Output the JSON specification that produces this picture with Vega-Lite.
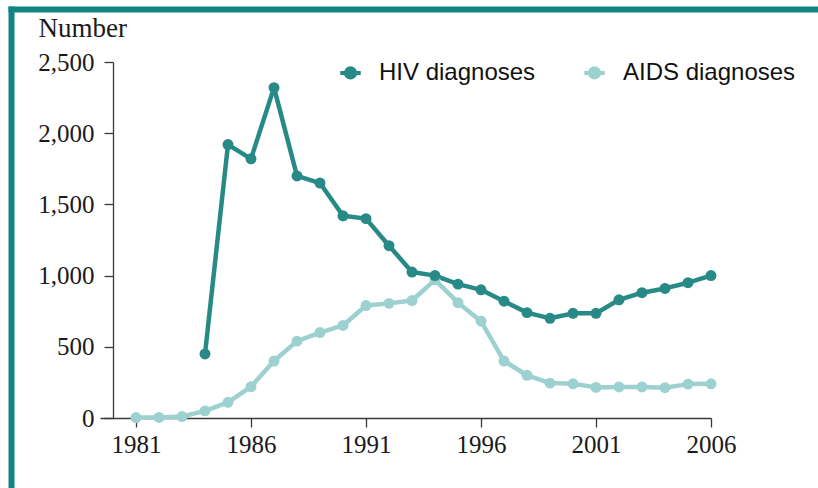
{
  "$schema": "https://vega.github.io/schema/vega-lite/v6.json",
  "width": 611,
  "height": 356,
  "autosize": {"type": "none"},
  "padding": {"left": 100, "top": 62, "right": 107, "bottom": 70},
  "background": "white",
  "config": {
    "view": {"stroke": null},
    "axis": {"grid": false, "domainColor": "#3a3a3a", "tickColor": "#3a3a3a", "domainWidth": 1.3, "tickWidth": 1.3, "labelFont": "Liberation Serif", "labelFontSize": 25, "labelColor": "#1a1a1a", "titleFont": "Liberation Serif", "titleFontWeight": "normal", "titleColor": "#1a1a1a"}
  },
  "datasets": {
    "d": [
      {"year": 1981, "series": "AIDS diagnoses", "value": 3},
      {"year": 1982, "series": "AIDS diagnoses", "value": 4},
      {"year": 1983, "series": "AIDS diagnoses", "value": 10},
      {"year": 1984, "series": "AIDS diagnoses", "value": 50},
      {"year": 1985, "series": "AIDS diagnoses", "value": 110},
      {"year": 1986, "series": "AIDS diagnoses", "value": 220},
      {"year": 1987, "series": "AIDS diagnoses", "value": 400},
      {"year": 1988, "series": "AIDS diagnoses", "value": 540},
      {"year": 1989, "series": "AIDS diagnoses", "value": 600},
      {"year": 1990, "series": "AIDS diagnoses", "value": 650},
      {"year": 1991, "series": "AIDS diagnoses", "value": 790},
      {"year": 1992, "series": "AIDS diagnoses", "value": 805},
      {"year": 1993, "series": "AIDS diagnoses", "value": 825},
      {"year": 1994, "series": "AIDS diagnoses", "value": 970},
      {"year": 1995, "series": "AIDS diagnoses", "value": 810},
      {"year": 1996, "series": "AIDS diagnoses", "value": 680},
      {"year": 1997, "series": "AIDS diagnoses", "value": 400},
      {"year": 1998, "series": "AIDS diagnoses", "value": 300},
      {"year": 1999, "series": "AIDS diagnoses", "value": 245},
      {"year": 2000, "series": "AIDS diagnoses", "value": 240},
      {"year": 2001, "series": "AIDS diagnoses", "value": 215},
      {"year": 2002, "series": "AIDS diagnoses", "value": 218},
      {"year": 2003, "series": "AIDS diagnoses", "value": 218},
      {"year": 2004, "series": "AIDS diagnoses", "value": 213},
      {"year": 2005, "series": "AIDS diagnoses", "value": 238},
      {"year": 2006, "series": "AIDS diagnoses", "value": 240},
      {"year": 1984, "series": "HIV diagnoses", "value": 450},
      {"year": 1985, "series": "HIV diagnoses", "value": 1920},
      {"year": 1986, "series": "HIV diagnoses", "value": 1820},
      {"year": 1987, "series": "HIV diagnoses", "value": 2320},
      {"year": 1988, "series": "HIV diagnoses", "value": 1700},
      {"year": 1989, "series": "HIV diagnoses", "value": 1650},
      {"year": 1990, "series": "HIV diagnoses", "value": 1420},
      {"year": 1991, "series": "HIV diagnoses", "value": 1400},
      {"year": 1992, "series": "HIV diagnoses", "value": 1210},
      {"year": 1993, "series": "HIV diagnoses", "value": 1025},
      {"year": 1994, "series": "HIV diagnoses", "value": 1000},
      {"year": 1995, "series": "HIV diagnoses", "value": 940},
      {"year": 1996, "series": "HIV diagnoses", "value": 900},
      {"year": 1997, "series": "HIV diagnoses", "value": 820},
      {"year": 1998, "series": "HIV diagnoses", "value": 740},
      {"year": 1999, "series": "HIV diagnoses", "value": 700},
      {"year": 2000, "series": "HIV diagnoses", "value": 735},
      {"year": 2001, "series": "HIV diagnoses", "value": 735},
      {"year": 2002, "series": "HIV diagnoses", "value": 830},
      {"year": 2003, "series": "HIV diagnoses", "value": 880},
      {"year": 2004, "series": "HIV diagnoses", "value": 910},
      {"year": 2005, "series": "HIV diagnoses", "value": 950},
      {"year": 2006, "series": "HIV diagnoses", "value": 1000}
    ]
  },
  "data": {"name": "d"},
  "layer": [
    {
      "mark": {"type": "line", "strokeWidth": 4.5, "strokeJoin": "round", "strokeCap": "round", "point": {"filled": true, "size": 120, "opacity": 1}},
      "encoding": {
        "x": {"field": "year", "type": "quantitative", "scale": {"domain": [1979.435, 2006], "nice": false, "zero": false},
          "axis": {"values": [1981, 1986, 1991, 1996, 2001, 2006], "format": "d", "title": null, "tickSize": 9, "labelPadding": 5, "labelFlush": false}},
        "y": {"field": "value", "type": "quantitative", "scale": {"domain": [0, 2500], "nice": false},
          "axis": {"values": [0, 500, 1000, 1500, 2000, 2500], "format": ",d", "tickSize": 9, "labelPadding": 10, "offset": -13,
            "title": "Number", "titleAngle": 0, "titleAlign": "left", "titleBaseline": "alphabetic", "titleX": -75, "titleY": -26, "titleFontSize": 27}},
        "color": {"field": "series", "type": "nominal",
          "scale": {"domain": ["HIV diagnoses", "AIDS diagnoses"], "range": ["#278a87", "#9dd1d0"]},
          "legend": {"title": null, "orient": "none", "direction": "horizontal", "legendX": 238, "legendY": -2,
            "symbolType": "M-1,0L1,0M-0.45,0A0.45,0.45 0 1,1 0.45,0A0.45,0.45 0 1,1 -0.45,0Z",
            "symbolSize": 420, "symbolStrokeWidth": 4, "labelFont": "Liberation Sans", "labelFontSize": 24, "labelLimit": 400, "labelColor": "#111", "labelOffset": 16, "columnPadding": 40, "padding": 0}},
        "order": {"field": "year"}
      }
    },
    {
      "mark": {"type": "point", "opacity": 0, "clip": true},
      "encoding": {
        "x": {"field": "year", "type": "quantitative", "scale": {"domain": [0, 1], "range": [-92, 718], "nice": false, "zero": false},
          "axis": {"orient": "top", "offset": 53, "labels": false, "ticks": false, "title": null, "domainColor": "#108582", "domainWidth": 6}},
        "y": {"field": "value", "type": "quantitative", "scale": {"domain": [0, 1], "range": [426, -56], "nice": false, "zero": false},
          "axis": {"orient": "left", "offset": 89, "labels": false, "ticks": false, "title": null, "domainColor": "#108582", "domainWidth": 6}}
      }
    }
  ],
  "resolve": {"scale": {"x": "independent", "y": "independent", "color": "independent"}, "axis": {"x": "independent", "y": "independent"}}
}
